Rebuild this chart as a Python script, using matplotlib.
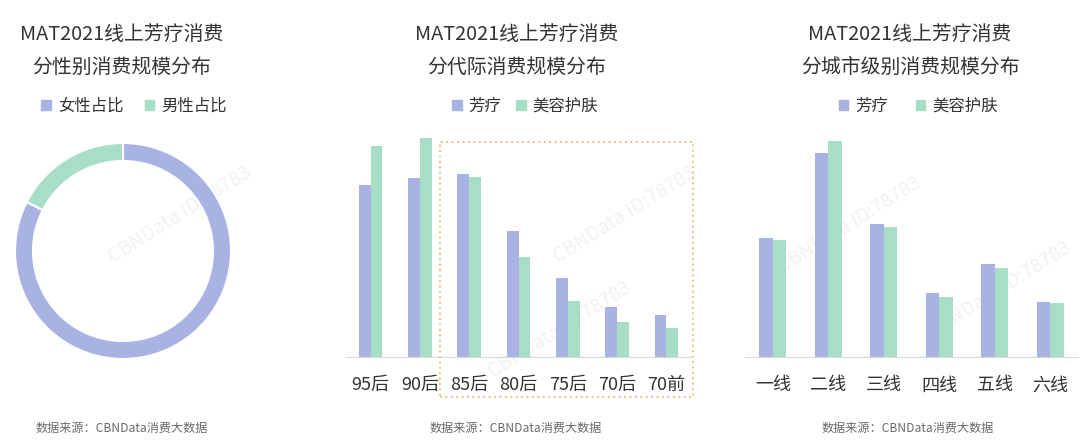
import matplotlib
matplotlib.use('Agg')
import matplotlib.pyplot as plt
from matplotlib.patches import Patch, Rectangle
import numpy as np

plt.rcParams['font.family'] = ['Noto Sans CJK SC', 'DejaVu Sans']

# data
gender_labels = ['女性占比', '男性占比']
gender_share = [82.5, 17.5]

gen_labels = ['95后', '90后', '85后', '80后', '75后', '70后', '70前']
gen_aroma = [172, 179, 183, 126, 79, 50, 42]
gen_beauty = [211, 219, 180, 100, 56, 35, 29]

city_labels = ['一线', '二线', '三线', '四线', '五线', '六线']
city_aroma = [119, 204, 133, 64, 93, 55]
city_beauty = [117, 216, 130, 60, 89, 54]

series_names = ['芳疗', '美容护肤']
purple = '#A9B3E3'
green = '#A8DEC6'
text_c = '#333333'

W, H = 1080, 443
fig = plt.figure(figsize=(W / 100, H / 100), dpi=100)


def fx(px):
    return px / W


def fy(py):
    return 1 - py / H


# faint watermarks, drawn beneath the charts
for (x, y) in [(180, 215), (625, 215), (850, 225), (1000, 290), (560, 330)]:
    fig.text(fx(x), fy(y), 'CBNData ID:78783', rotation=32, fontsize=14,
             color='#f3f1f3', ha='center', va='center', zorder=-5)

# titles
for cx, sub in [(122, '分性别消费规模分布'), (517, '分代际消费规模分布'), (910, '分城市级别消费规模分布')]:
    fig.text(fx(cx), fy(34), 'MAT2021线上芳疗消费', fontsize=14.3, color=text_c,
             ha='center', va='center')
    fig.text(fx(cx), fy(67), sub, fontsize=14.3, color=text_c, ha='center', va='center')

# source notes
for lx in [36, 430, 822]:
    fig.text(fx(lx), fy(428), '数据来源：CBNData消费大数据', fontsize=8.7,
             color='#6a6a6a', ha='left', va='center')

# donut
r_px = 108
ax0 = fig.add_axes([fx(123 - 112), fy(251 + 112), fx(224), 224 / H])
ax0.pie(gender_share, colors=[purple, green], startangle=90, counterclock=False,
        wedgeprops=dict(width=18 / r_px, edgecolor='white', linewidth=1.5))
ax0.set_xlim(-112 / r_px, 112 / r_px)
ax0.set_ylim(-112 / r_px, 112 / r_px)
ax0.set_aspect('auto')
ax0.axis('off')
fig.legend([Patch(color=purple), Patch(color=green)], gender_labels,
           loc='center', bbox_to_anchor=(fx(134), fy(106)), ncol=2, frameon=False,
           fontsize=11.8, handlelength=0.6, handleheight=0.6, handletextpad=0.4,
           columnspacing=1.3, labelcolor=text_c)


def bar_panel(left_px, right_px, labels, a, b, legend_x):
    n = len(labels)
    ax = fig.add_axes([fx(left_px), fy(357), fx(right_px - left_px), 230 / H])
    x = np.arange(n)
    w = 0.24
    ax.bar(x - w / 2, a, w, color=purple, label=series_names[0])
    ax.bar(x + w / 2, b, w, color=green, label=series_names[1])
    ax.set_xlim(-0.5, n - 0.5)
    ax.set_ylim(0, 230)
    ax.set_xticks(x)
    ax.set_xticklabels(labels, fontsize=13, color=text_c)
    ax.tick_params(axis='x', length=0, pad=14)
    ax.set_yticks([])
    for s in ['top', 'right', 'left']:
        ax.spines[s].set_visible(False)
    ax.spines['bottom'].set_color('#d9d9d9')
    ax.patch.set_alpha(0)
    fig.legend([Patch(color=purple), Patch(color=green)], series_names,
               loc='center', bbox_to_anchor=(fx(legend_x), fy(106)), ncol=2, frameon=False,
               fontsize=11.8, handlelength=0.6, handleheight=0.6, handletextpad=0.4,
               columnspacing=0.9 if legend_x < 700 else 1.7, labelcolor=text_c)
    return ax


bar_panel(346, 691, gen_labels, gen_aroma, gen_beauty, 525)
bar_panel(745, 1078, city_labels, city_aroma, city_beauty, 918)

# dotted highlight box
fig.patches.append(Rectangle((fx(440), fy(397)), fx(253), 255 / H, transform=fig.transFigure,
                             fill=False, edgecolor='#e3b878', linestyle=(0, (1, 2)), linewidth=1.3))

fig.savefig('out.png', dpi=100, facecolor='white')
